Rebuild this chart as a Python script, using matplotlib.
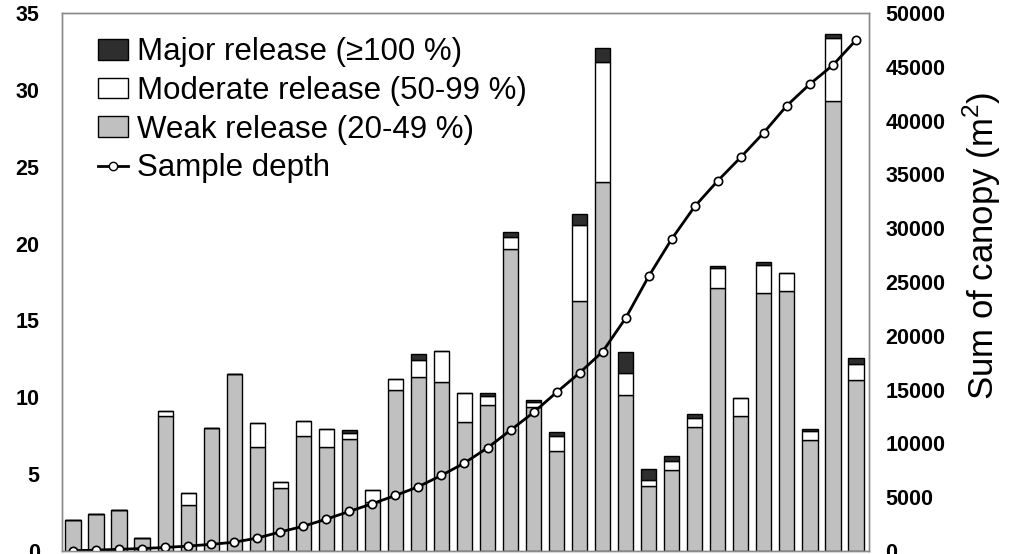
import numpy as np
import matplotlib
matplotlib.use("Agg")
import matplotlib.pyplot as plt
from matplotlib.patches import Patch
from matplotlib.lines import Line2D

plt.rcParams["font.family"] = ["Liberation Sans", "DejaVu Sans"]
plt.rcParams["mathtext.fontset"] = "custom"
plt.rcParams["mathtext.rm"] = "Liberation Sans"

# release events per decade (stacked)
weak = [2.0, 2.4, 2.7, 0.85, 8.8, 3.0, 8.0, 11.5, 6.76, 4.1, 7.5, 6.76, 7.3, 3.2,
        10.5, 11.3, 11.0, 8.4, 9.5, 19.65, 9.36, 6.5, 16.25, 24.0, 10.16, 4.2,
        5.26, 8.05, 17.1, 8.8, 16.77, 16.9, 7.2, 29.3, 11.1]
moderate = [0, 0, 0, 0, 0.3, 0.8, 0, 0, 1.6, 0.4, 0.95, 1.2, 0.35, 0.8, 0.7, 1.15,
            2.0, 1.9, 0.6, 0.8, 0.35, 1.0, 4.95, 7.8, 1.4, 0.4, 0.6, 0.6, 1.3,
            1.15, 1.85, 1.2, 0.58, 4.1, 1.07]
major = [0, 0, 0, 0, 0, 0, 0, 0, 0, 0, 0, 0, 0.2, 0, 0, 0.35, 0, 0, 0.2, 0.3, 0.1,
         0.25, 0.75, 0.9, 1.4, 0.75, 0.3, 0.27, 0.15, 0, 0.15, 0, 0.16, 0.25, 0.4]

# cumulative canopy area (m2)
sample_depth = [30, 80, 160, 230, 330, 460, 620, 820, 1200, 1770, 2300, 2960,
                3680, 4400, 5160, 5980, 7030, 8180, 9590, 11230, 12880, 14750,
                16560, 18530, 21650, 25530, 29000, 32030, 34410, 36600, 38890,
                41400, 43400, 45160, 47480]

x = np.arange(len(weak))
weak = np.array(weak)
moderate = np.array(moderate)
major = np.array(major)

gray = "#c0c0c0"
dark = "#2e2e2e"

fig = plt.figure(figsize=(10.24, 5.54), dpi=100)
ax = fig.add_axes([0.0605, 0.0054, 0.788, 0.9711])

w = 0.66
ax.bar(x, weak, w, color=gray, edgecolor="black", linewidth=1.0)
ax.bar(x, moderate, w, bottom=weak, color="white", edgecolor="black", linewidth=1.0)
ax.bar(x, major, w, bottom=weak + moderate, color=dark, edgecolor="black", linewidth=1.0)

ax.set_xlim(-0.48, 34.56)
ax.set_ylim(0, 35)
ax.set_yticks(range(0, 36, 5))
ax.set_xticks([])
ax.tick_params(axis="y", length=0, pad=16, labelsize=15.5)
for t in ax.get_yticklabels():
    t.set_fontweight("bold")

ax2 = ax.twinx()
ax2.plot(x, sample_depth, color="black", lw=2, marker="o", markersize=6,
         markerfacecolor="white", markeredgecolor="black", markeredgewidth=1.2)
ax2.set_ylim(0, 50000)
ax2.set_yticks(range(0, 50001, 5000))
ax2.tick_params(axis="y", length=0, pad=12, labelsize=15.5)
for t in ax2.get_yticklabels():
    t.set_fontweight("bold")

fig.text(982 / 1024, 1 - 246 / 554, "Sum of canopy (m$^2$)", rotation=90,
         ha="center", va="center", fontsize=25)

for a in (ax, ax2):
    for s in a.spines.values():
        s.set_color("#8a8a8a")
        s.set_linewidth(1.0)

handles = [
    Patch(facecolor=dark, edgecolor="black"),
    Patch(facecolor="white", edgecolor="black"),
    Patch(facecolor=gray, edgecolor="black"),
    Line2D([0], [0], color="black", lw=2, marker="o", markersize=6,
           markerfacecolor="white", markeredgecolor="black"),
]
labels = ["Major release (≥100 %)", "Moderate release (50-99 %)",
          "Weak release (20-49 %)", "Sample depth"]
ax2.legend(handles, labels, loc="upper left", bbox_to_anchor=(0.045, 0.955),
           frameon=False, fontsize=22.5, borderpad=0, borderaxespad=0,
           handlelength=0.96, handleheight=0.64, handletextpad=0.28,
           labelspacing=0.28)

fig.savefig("out.png", dpi=100)
